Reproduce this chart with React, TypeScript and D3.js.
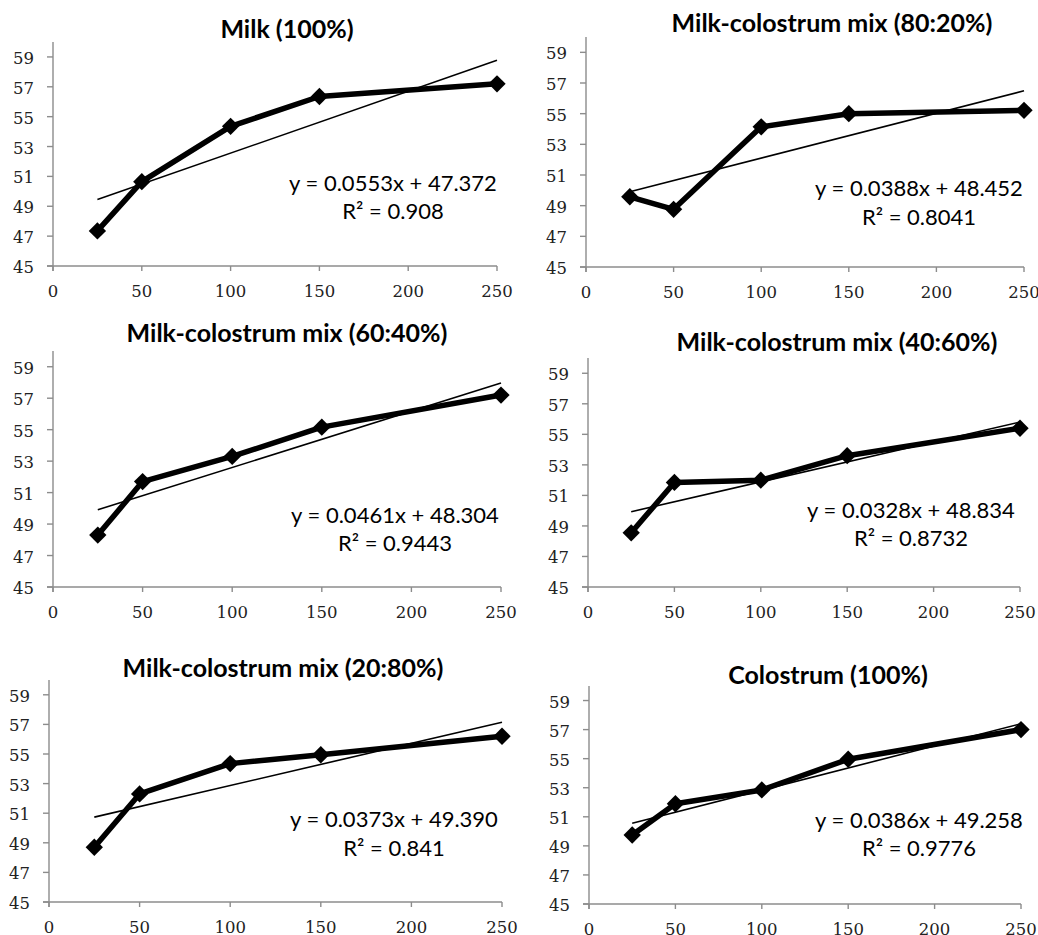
import React from 'react';
import * as d3 from 'd3';

const xValues = [25, 50, 100, 150, 250];
const xTicks = [0, 50, 100, 150, 200, 250];
const yTicks = [45, 47, 49, 51, 53, 55, 57, 59];

const titles = [
  'Milk (100%)',
  'Milk-colostrum mix (80:20%)',
  'Milk-colostrum mix (60:40%)',
  'Milk-colostrum mix (40:60%)',
  'Milk-colostrum mix (20:80%)',
  'Colostrum (100%)',
];

const milk = [47.35, 50.65, 54.35, 56.35, 57.2];
const mix8020 = [49.58, 48.76, 54.14, 55.0, 55.22];
const mix6040 = [48.3, 51.7, 53.3, 55.16, 57.2];
const mix4060 = [48.55, 51.85, 52.0, 53.6, 55.4];
const mix2080 = [48.7, 52.3, 54.35, 54.95, 56.2];
const colostrum = [49.75, 51.9, 52.85, 54.96, 57.0];
const seriesValues = [milk, mix8020, mix6040, mix4060, mix2080, colostrum];

const equations = [
  'y = 0.0553x + 47.372',
  'y = 0.0388x + 48.452',
  'y = 0.0461x + 48.304',
  'y = 0.0328x + 48.834',
  'y = 0.0373x + 49.390',
  'y = 0.0386x + 49.258',
];
const rSquared = ['0.908', '0.8041', '0.9443', '0.8732', '0.841', '0.9776'];

// plot frames, title and label anchors (pixels)
const layout = [
  { l: 53, r: 497, t: 42, b: 266, tx: 287, ty: 29, ex: 393, ey: 183, ry: 211 },
  { l: 586, r: 1024, t: 37, b: 267, tx: 832, ty: 23, ex: 919, ey: 188, ry: 217 },
  { l: 53, r: 501, t: 351, b: 587, tx: 287, ty: 333, ex: 395, ey: 515, ry: 543 },
  { l: 588, r: 1020, t: 358, b: 587, tx: 837, ty: 342, ex: 911, ey: 510, ry: 538 },
  { l: 49, r: 502, t: 680, b: 902, tx: 283, ty: 668, ex: 394, ey: 819, ry: 848 },
  { l: 589, r: 1021, t: 686, b: 904, tx: 828, ty: 675, ex: 919, ey: 820, ry: 848 },
];

const axisColor = '#8c8c8c';
const sansFont = 'Lato, "Open Sans", sans-serif';
const serifFont = '"DejaVu Serif", serif';

function fit(xs: number[], ys: number[]) {
  const mx = d3.mean(xs) as number;
  const my = d3.mean(ys) as number;
  const sxy = d3.sum(xs, (x, i) => (x - mx) * (ys[i] - my));
  const sxx = d3.sum(xs, (x) => (x - mx) * (x - mx));
  const slope = sxy / sxx;
  return { slope, intercept: my - slope * mx };
}

const diamond = d3.symbol().type(d3.symbolSquare).size(150)() as string;

function Panel({ idx }: { idx: number }) {
  const f = layout[idx];
  const values = seriesValues[idx];
  const x = d3.scaleLinear().domain([0, 250]).range([f.l, f.r]);
  const y = d3.scaleLinear().domain([45, 60]).range([f.b, f.t]);
  const pts = xValues.map((xv, i) => [xv, values[i]] as [number, number]);
  const line = d3.line<[number, number]>().x((d) => x(d[0])).y((d) => y(d[1]));
  const { slope, intercept } = fit(xValues, values);
  const x0 = xValues[0];
  const x1 = xValues[xValues.length - 1];
  const trend: [number, number][] = [
    [x0, intercept + slope * x0],
    [x1, intercept + slope * x1],
  ];

  return (
    <g>
      <text x={f.tx} y={f.ty + 9} textAnchor="middle" fontFamily={sansFont} fontWeight="bold" fontSize={25} fill="#000">
        {titles[idx]}
      </text>
      {/* axes */}
      <line x1={f.l} x2={f.l} y1={f.t} y2={f.b + 5} stroke={axisColor} strokeWidth={1.4} />
      <line x1={f.l - 6} x2={f.r} y1={f.b} y2={f.b} stroke={axisColor} strokeWidth={1.4} />
      {yTicks.map((t) => (
        <g key={'y' + t}>
          <line x1={f.l - 6} x2={f.l} y1={y(t)} y2={y(t)} stroke={axisColor} strokeWidth={1.4} />
          <text x={f.l - 19} y={y(t) + 7} textAnchor="end" fontFamily={serifFont} fontSize={16.5} fill="#222">
            {t}
          </text>
        </g>
      ))}
      {xTicks.map((t) => (
        <g key={'x' + t}>
          <line x1={x(t)} x2={x(t)} y1={f.b} y2={f.b + 5} stroke={axisColor} strokeWidth={1.4} />
          <text x={x(t)} y={f.b + 31} textAnchor="middle" fontFamily={serifFont} fontSize={16.5} fill="#222">
            {t}
          </text>
        </g>
      ))}
      {/* data */}
      <path d={line(pts) as string} fill="none" stroke="#000" strokeWidth={5.5} strokeLinejoin="round" />
      {pts.map((d, i) => (
        <path key={i} d={diamond} transform={`translate(${x(d[0])},${y(d[1])}) rotate(45)`} fill="#000" />
      ))}
      <path d={line(trend) as string} fill="none" stroke="#000" strokeWidth={1.6} />
      <text x={f.ex} y={f.ey + 8} textAnchor="middle" fontFamily={sansFont} fontSize={22} fill="#000">
        {equations[idx]}
      </text>
      <text x={f.ex} y={f.ry + 8} textAnchor="middle" fontFamily={sansFont} fontSize={22} fill="#000">
        {'R² = ' + rSquared[idx]}
      </text>
    </g>
  );
}

export default function App() {
  return (
    <svg
      width={1038}
      height={935}
      style={{ position: 'absolute', left: 0, top: 0, background: '#fff' }}
    >
      <rect width={1038} height={935} fill="#fff" />
      {titles.map((_, i) => (
        <Panel key={i} idx={i} />
      ))}
    </svg>
  );
}
